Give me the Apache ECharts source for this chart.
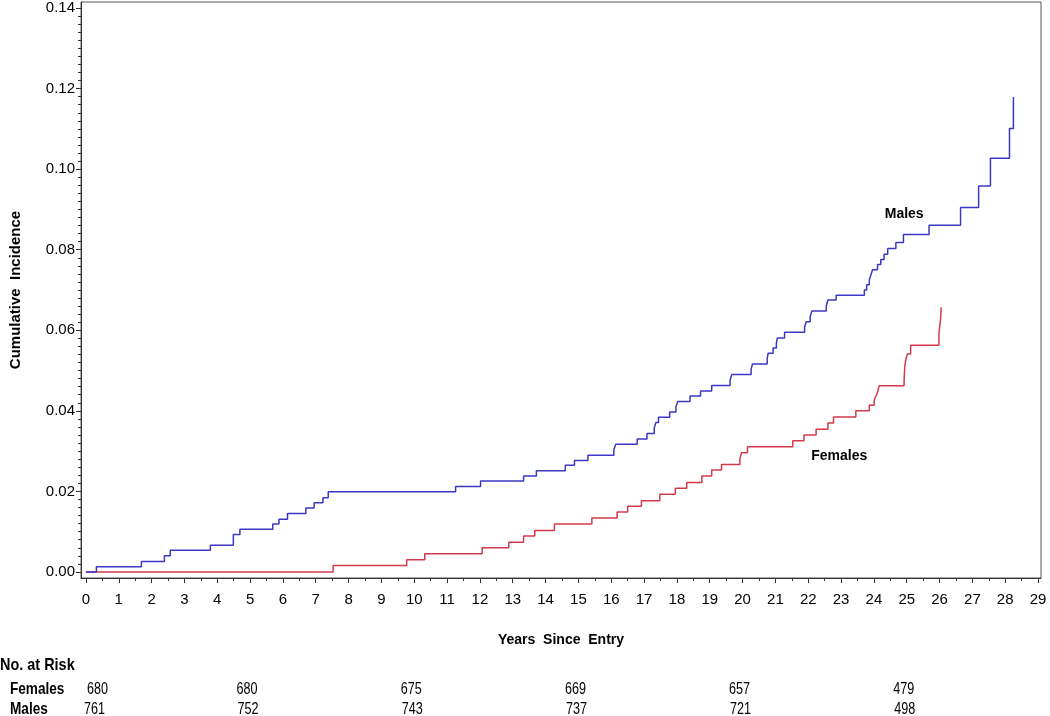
<!DOCTYPE html>
<html>
<head>
<meta charset="utf-8">
<script src="https://cdn.jsdelivr.net/npm/echarts@6/dist/echarts.min.js"></script>
<style>
html,body{margin:0;padding:0;background:#fff;}
#chart{width:1050px;height:716px;}
</style>
</head>
<body>
<div id="chart"></div>
<script>
// ---- Data ----
var maleTimes = [0, 0.32, 1.69, 2.39, 2.57, 3.79, 4.49, 4.69, 5.69, 5.88, 6.14, 6.70, 6.95, 7.22, 7.38,
  11.26, 12.02, 13.33, 13.72, 14.60, 14.88, 15.29, 16.08, 16.14, 16.79, 17.09, 17.31, 17.36, 17.44, 17.78,
  17.97, 18.03, 18.40, 18.72, 19.06, 19.62, 19.67, 20.26, 20.30, 20.75, 20.78, 20.93, 21.03, 21.06, 21.28,
  21.89, 21.94, 22.06, 22.11, 22.55, 22.60, 22.85, 23.71, 23.78, 23.86, 23.91, 23.96, 24.11, 24.21, 24.31,
  24.42, 24.67, 24.90, 25.68, 26.64, 27.19, 27.55, 28.13, 28.25];
var maleValues = [0, 0.0013, 0.0026, 0.0040, 0.0054, 0.0066, 0.0093, 0.0106, 0.0119, 0.0131, 0.0145, 0.0159, 0.0172, 0.0184, 0.0199,
  0.0212, 0.0226, 0.0238, 0.0251, 0.0265, 0.0277, 0.0290, 0.0304, 0.0317, 0.0330, 0.0344, 0.0357, 0.0371, 0.0384, 0.0397,
  0.0410, 0.0423, 0.0437, 0.0449, 0.0463, 0.0476, 0.0490, 0.0503, 0.0516, 0.0529, 0.0543, 0.0556, 0.0568, 0.0581, 0.0595,
  0.0608, 0.0621, 0.0634, 0.0648, 0.0661, 0.0675, 0.0687, 0.0700, 0.0713, 0.0725, 0.0738, 0.0750, 0.0763, 0.0776, 0.0789,
  0.0803, 0.0818, 0.0838, 0.0861, 0.0905, 0.0958, 0.1027, 0.1101, 0.1179];
var femaleTimes = [0, 7.53, 9.77, 10.32, 12.07, 12.88, 13.33, 13.67, 14.27, 15.41, 16.18, 16.50, 16.92, 17.48, 17.95,
  18.30, 18.76, 19.06, 19.36, 19.92, 19.97, 20.15, 21.53, 21.87, 22.24, 22.60, 22.77, 23.45, 23.86, 24.01,
  24.06, 24.11, 24.16, 24.92, 24.94, 24.97, 25.02, 25.12, 25.98, 26.03, 26.05];
var femaleValues = [0, 0.0016, 0.0030, 0.0045, 0.0060, 0.0074, 0.0089, 0.0103, 0.0119, 0.0134, 0.0149, 0.0163, 0.0177, 0.0193, 0.0208,
  0.0222, 0.0238, 0.0253, 0.0267, 0.0282, 0.0296, 0.0311, 0.0326, 0.0340, 0.0354, 0.0370, 0.0385, 0.0400, 0.0414, 0.0427,
  0.0436, 0.0446, 0.0462, 0.0476, 0.0509, 0.0526, 0.0541, 0.0563, 0.0592, 0.0625, 0.0657];

var yTickValues = [0, 0.02, 0.04, 0.06, 0.08, 0.10, 0.12, 0.14];
var xTickValues = [0,1,2,3,4,5,6,7,8,9,10,11,12,13,14,15,16,17,18,19,20,21,22,23,24,25,26,27,28,29];

var riskYears = [0, 5, 10, 15, 20, 25];
var riskFemales = [680, 680, 675, 669, 657, 479];
var riskMales = [761, 752, 743, 737, 721, 498];

// ---- Build ----
function pairs(ts, vs) { return ts.map(function (t, i) { return [t, vs[i]]; }); }
var yMinor = []; for (var k = 0; k <= 70; k++) yMinor.push(+(k * 0.002).toFixed(4));
var xMinor = []; for (var h = 0; h <= 58; h++) xMinor.push(h * 0.5);

var FONT = '"Liberation Sans", Arial, sans-serif';
var chart = echarts.init(document.getElementById('chart'), null, { renderer: 'canvas' });

var option = {
  backgroundColor: '#ffffff',
  animation: false,
  grid: { left: 76, top: 2, right: 9, bottom: 138, show: true, borderColor: '#555', borderWidth: 1, backgroundColor: 'transparent' },
  xAxis: [{
    type: 'value', min: -0.15, max: 29.09,
    name: 'Years  Since  Entry', nameLocation: 'middle', nameGap: 55,
    nameTextStyle: { fontFamily: FONT, fontSize: 14, fontWeight: 'bold', color: '#000' },
    axisLine: { show: true, onZero: false, lineStyle: { color: '#333', width: 1 } },
    axisTick: { show: true, length: 5, customValues: xTickValues, lineStyle: { color: '#333' } },
    axisLabel: { show: true, customValues: xTickValues, margin: 14, fontFamily: FONT, fontSize: 15, color: '#000', formatter: function (v) { return String(Math.round(v)); } },
    splitLine: { show: false }
  }, {
    type: 'value', min: -0.15, max: 29.09, position: 'bottom',
    axisLine: { show: false, onZero: false },
    axisTick: { show: true, length: 3, customValues: xMinor, lineStyle: { color: '#333' } },
    axisLabel: { show: false },
    splitLine: { show: false }
  }],
  yAxis: [{
    type: 'value', min: -0.0015, max: 0.1415,
    name: 'Cumulative  Incidence', nameLocation: 'middle', nameGap: 58, nameRotate: 90,
    nameTextStyle: { fontFamily: FONT, fontSize: 15, fontWeight: 'bold', color: '#000' },
    axisLine: { show: true, onZero: false, lineStyle: { color: '#333', width: 1 } },
    axisTick: { show: true, length: 5, customValues: yTickValues, lineStyle: { color: '#333' } },
    axisLabel: { show: true, customValues: yTickValues, margin: 6, fontFamily: FONT, fontSize: 15, color: '#000', formatter: function (v) { return v.toFixed(2); } },
    splitLine: { show: false }
  }, {
    type: 'value', min: -0.0015, max: 0.1415, position: 'left',
    axisLine: { show: false, onZero: false },
    axisTick: { show: true, length: 3, customValues: yMinor, lineStyle: { color: '#333' } },
    axisLabel: { show: false },
    splitLine: { show: false }
  }],
  series: [{
    name: 'Females', type: 'line', step: 'end', xAxisIndex: 0, yAxisIndex: 0,
    data: pairs(femaleTimes, femaleValues), showSymbol: false, symbol: 'none',
    lineStyle: { color: '#d23a4b', width: 1.5 }, z: 2
  }, {
    name: 'Males', type: 'line', step: 'end', xAxisIndex: 0, yAxisIndex: 0,
    data: pairs(maleTimes, maleValues), showSymbol: false, symbol: 'none',
    lineStyle: { color: '#3a38c4', width: 1.5 }, z: 3
  }]
};
chart.setOption(option);

// ---- Annotations & at-risk table ----
var g = [];
var mp = chart.convertToPixel({ xAxisIndex: 0, yAxisIndex: 0 }, [24.33, 0.0888]);
g.push({ type: 'text', x: mp[0], y: mp[1], style: { text: 'Males', fontFamily: FONT, fontSize: 14, fontWeight: 'bold', fill: '#000', verticalAlign: 'middle' } });
var fp = chart.convertToPixel({ xAxisIndex: 0, yAxisIndex: 0 }, [22.09, 0.0288]);
g.push({ type: 'text', x: fp[0], y: fp[1], style: { text: 'Females', fontFamily: FONT, fontSize: 14, fontWeight: 'bold', fill: '#000', verticalAlign: 'middle' } });

function tableText(txt, x, y, bold, align, sx) {
  return { type: 'text', x: x, y: y, scaleX: sx, style: { text: txt, fontFamily: FONT, fontSize: 17, fontWeight: bold ? 'bold' : 'normal', fill: '#000', align: align, verticalAlign: 'middle' } };
}
g.push(tableText('No. at Risk', 0, 665, true, 'left', 0.85));
g.push(tableText('Females', 10, 689, true, 'left', 0.8));
g.push(tableText('Males', 10, 709, true, 'left', 0.8));
riskYears.forEach(function (yr, i) {
  var px = chart.convertToPixel({ xAxisIndex: 0 }, yr);
  if (i === 0) {
    g.push(tableText(String(riskFemales[i]), px + 1, 689, false, 'left', 0.74));
    g.push(tableText(String(riskMales[i]), px - 2, 709, false, 'left', 0.74));
  } else {
    g.push(tableText(String(riskFemales[i]), px - 3, 689, false, 'center', 0.74));
    g.push(tableText(String(riskMales[i]), px - 2, 709, false, 'center', 0.74));
  }
});
chart.setOption({ graphic: g });
</script>
</body>
</html>
